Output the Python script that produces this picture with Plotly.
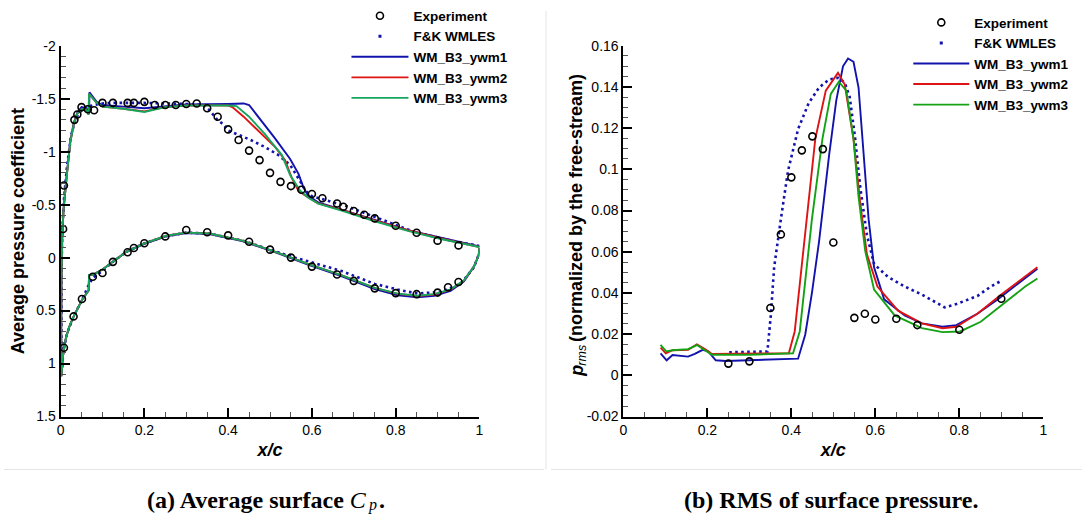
import plotly.graph_objects as go

# ---------------- Left panel: average Cp ----------------
exp_cp_up_x = [0.006, 0.008, 0.033, 0.04, 0.05, 0.065, 0.08, 0.1, 0.125, 0.16, 0.175, 0.2, 0.225, 0.25,
               0.275, 0.3, 0.325, 0.35, 0.375, 0.4, 0.425, 0.45, 0.475, 0.5, 0.525, 0.55, 0.575, 0.6,
               0.625, 0.66, 0.675, 0.7, 0.725, 0.75, 0.8, 0.85, 0.9, 0.95]
exp_cp_up = [-0.27, -0.68, -1.30, -1.35, -1.42, -1.40, -1.39, -1.46, -1.46, -1.46, -1.46, -1.47, -1.44, -1.44,
             -1.44, -1.45, -1.455, -1.41, -1.33, -1.21, -1.11, -1.01, -0.92, -0.80, -0.715, -0.675, -0.64, -0.60,
             -0.56, -0.51, -0.48, -0.44, -0.405, -0.37, -0.30, -0.235, -0.16, -0.115]
exp_cp_lo_x = [0.008, 0.031, 0.051, 0.077, 0.1, 0.125, 0.16, 0.175, 0.2, 0.25, 0.3, 0.35, 0.4, 0.45, 0.5,
               0.55, 0.6, 0.66, 0.7, 0.75, 0.8, 0.85, 0.9, 0.925, 0.95]
exp_cp_lo = [0.85, 0.555, 0.39, 0.18, 0.145, 0.04, -0.05, -0.09, -0.135, -0.2, -0.26, -0.24, -0.21, -0.15, -0.075,
             0.0, 0.085, 0.16, 0.22, 0.29, 0.335, 0.345, 0.33, 0.28, 0.23]

fk_cp_x = [1.0, 0.928, 0.846, 0.765, 0.683, 0.60, 0.585, 0.572, 0.56, 0.548, 0.519, 0.487, 0.454, 0.434, 0.41,
           0.40, 0.388, 0.374, 0.356, 0.34, 0.30, 0.2, 0.12, 0.1, 0.08, 0.06, 0.045, 0.035, 0.025, 0.015, 0.008,
           0.004, 0.002, 0.002, 0.004, 0.006, 0.015, 0.031, 0.051, 0.068, 0.077, 0.1, 0.126, 0.157, 0.2, 0.25,
           0.3, 0.355, 0.434, 0.513, 0.55, 0.592, 0.671, 0.75, 0.813, 0.852, 0.908, 0.955, 0.987, 1.0]
fk_cp = [-0.11, -0.165, -0.24, -0.36, -0.485, -0.58, -0.63, -0.72, -0.80, -0.875, -0.97, -1.045, -1.11, -1.145, -1.18,
         -1.20, -1.26, -1.30, -1.39, -1.44, -1.45, -1.46, -1.46, -1.455, -1.44, -1.42, -1.37, -1.30, -1.15, -0.85, -0.55,
         -0.25, 0.2, 0.8, 1.05, 0.9, 0.72, 0.557, 0.40, 0.25, 0.19, 0.125, 0.036, -0.055, -0.135, -0.2,
         -0.236, -0.227, -0.161, -0.06, -0.01, 0.036, 0.127, 0.248, 0.309, 0.339, 0.324, 0.248, 0.09, -0.05]

ywm1_cp_x = [1.0, 0.908, 0.829, 0.75, 0.671, 0.615, 0.59, 0.58, 0.568, 0.548, 0.511, 0.473, 0.45, 0.437, 0.40,
             0.30, 0.20, 0.15, 0.10, 0.086, 0.072, 0.069, 0.068, 0.062, 0.05, 0.04, 0.031, 0.023, 0.015, 0.01,
             0.007, 0.004, 0.002, 0.0015, 0.002, 0.005, 0.01, 0.02, 0.031, 0.051, 0.06, 0.067, 0.068, 0.078,
             0.10, 0.126, 0.157, 0.2, 0.252, 0.3, 0.355, 0.434, 0.513, 0.592, 0.67, 0.75, 0.805, 0.852, 0.892,
             0.931, 0.963, 0.987, 0.998, 1.0]
ywm1_cp = [-0.105, -0.185, -0.26, -0.355, -0.455, -0.52, -0.59, -0.66, -0.79, -0.93, -1.13, -1.33, -1.44, -1.455, -1.45,
           -1.445, -1.41, -1.425, -1.44, -1.47, -1.54, -1.56, -1.36, -1.41, -1.42, -1.37, -1.26, -1.09, -0.79, -0.6,
           -0.45, -0.2, 0.2, 0.7, 1.12, 0.95, 0.8, 0.66, 0.557, 0.40, 0.35, 0.31, 0.165, 0.16,
           0.112, 0.036, -0.055, -0.13, -0.2, -0.232, -0.222, -0.155, -0.05, 0.068, 0.175, 0.297, 0.355, 0.375, 0.36,
           0.315, 0.225, 0.085, -0.02, -0.09]

ywm2_cp_x = [1.0, 0.908, 0.829, 0.75, 0.671, 0.615, 0.59, 0.568, 0.552, 0.536, 0.513, 0.473, 0.437, 0.41, 0.40,
             0.355, 0.30, 0.25, 0.20, 0.15, 0.10, 0.086, 0.072, 0.068, 0.067, 0.06, 0.05, 0.04, 0.031, 0.023,
             0.015, 0.01, 0.007, 0.004, 0.002, 0.0015, 0.002, 0.005, 0.01, 0.02, 0.031, 0.051, 0.06, 0.067, 0.068,
             0.078, 0.10, 0.126, 0.157, 0.2, 0.252, 0.3, 0.355, 0.434, 0.513, 0.592, 0.67, 0.75, 0.805, 0.852,
             0.892, 0.931, 0.963, 0.987, 0.998, 1.0]
ywm2_cp = [-0.10, -0.18, -0.258, -0.35, -0.45, -0.512, -0.57, -0.63, -0.75, -0.92, -1.04, -1.19, -1.33, -1.42, -1.435,
           -1.437, -1.435, -1.42, -1.38, -1.405, -1.425, -1.46, -1.53, -1.545, -1.35, -1.40, -1.40, -1.36, -1.25, -1.085,
           -0.78, -0.6, -0.45, -0.2, 0.2, 0.7, 1.12, 0.95, 0.8, 0.66, 0.557, 0.40, 0.35, 0.31, 0.165,
           0.16, 0.112, 0.036, -0.055, -0.135, -0.206, -0.236, -0.227, -0.161, -0.055, 0.061, 0.166, 0.285, 0.342, 0.362,
           0.348, 0.302, 0.216, 0.082, -0.02, -0.09]

ywm3_cp_x = [1.0, 0.95, 0.908, 0.829, 0.75, 0.671, 0.615, 0.59, 0.572, 0.548, 0.528, 0.503, 0.489, 0.45, 0.42,
             0.40, 0.355, 0.30, 0.25, 0.20, 0.15, 0.10, 0.086, 0.072, 0.068, 0.067, 0.06, 0.05, 0.04, 0.031,
             0.023, 0.015, 0.01, 0.007, 0.004, 0.002, 0.0015, 0.002, 0.005, 0.01, 0.02, 0.031, 0.051, 0.06, 0.067,
             0.068, 0.078, 0.10, 0.126, 0.157, 0.2, 0.252, 0.3, 0.355, 0.434, 0.513, 0.592, 0.67, 0.75, 0.805,
             0.852, 0.892, 0.931, 0.963, 0.987, 0.998, 1.0]
ywm3_cp = [-0.10, -0.14, -0.176, -0.252, -0.343, -0.443, -0.509, -0.57, -0.63, -0.78, -0.97, -1.09, -1.16, -1.33, -1.43,
           -1.435, -1.437, -1.435, -1.42, -1.375, -1.405, -1.425, -1.46, -1.53, -1.545, -1.35, -1.40, -1.40, -1.36, -1.25,
           -1.085, -0.78, -0.6, -0.45, -0.2, 0.2, 0.7, 1.12, 0.95, 0.8, 0.66, 0.557, 0.40, 0.35, 0.31,
           0.165, 0.16, 0.112, 0.036, -0.055, -0.135, -0.206, -0.236, -0.227, -0.161, -0.055, 0.061, 0.166, 0.285, 0.34,
           0.36, 0.345, 0.30, 0.215, 0.082, -0.02, -0.09]

# ---------------- Right panel: p_rms ----------------
exp_rms_x = [0.25, 0.3, 0.35, 0.375, 0.4, 0.425, 0.45, 0.475, 0.5, 0.55, 0.575, 0.6, 0.65, 0.7, 0.8, 0.9]
exp_rms = [0.0057, 0.0068, 0.0327, 0.0684, 0.0961, 0.1092, 0.116, 0.1098, 0.0645, 0.0279, 0.0299, 0.0271,
           0.0275, 0.0244, 0.0221, 0.0372]

fk_rms_x = [0.252, 0.343, 0.351, 0.359, 0.375, 0.392, 0.416, 0.441, 0.466, 0.49, 0.511, 0.527, 0.539, 0.552,
            0.564, 0.58, 0.597, 0.63, 0.67, 0.711, 0.765, 0.793, 0.843, 0.875, 0.90]
fk_rms = [0.0112, 0.0116, 0.029, 0.0525, 0.0758, 0.0992, 0.1195, 0.132, 0.1397, 0.1436, 0.1444, 0.1421, 0.1351,
          0.1148, 0.0914, 0.0681, 0.054, 0.0478, 0.0431, 0.0392, 0.033, 0.0346, 0.0385, 0.0431, 0.0459]

ywm1_rms_x = [0.0885, 0.103, 0.117, 0.154, 0.17, 0.189, 0.202, 0.22, 0.244, 0.302, 0.416, 0.433, 0.449, 0.466,
              0.49, 0.507, 0.523, 0.535, 0.548, 0.56, 0.572, 0.584, 0.597, 0.621, 0.67, 0.711, 0.76, 0.793,
              0.843, 0.892, 0.941, 0.986]
ywm1_rms = [0.0107, 0.0073, 0.0099, 0.0091, 0.0104, 0.0124, 0.0116, 0.0073, 0.007, 0.0073, 0.0081, 0.0197, 0.04,
            0.065, 0.107, 0.1335, 0.150, 0.1538, 0.1522, 0.1397, 0.107, 0.0758, 0.0525, 0.0369, 0.0291, 0.0252,
            0.0236, 0.0244, 0.0299, 0.0369, 0.0447, 0.0517]

ywm2_rms_x = [0.0885, 0.101, 0.117, 0.154, 0.175, 0.195, 0.211, 0.302, 0.394, 0.408, 0.42, 0.437, 0.457, 0.482,
              0.511, 0.527, 0.548, 0.564, 0.58, 0.605, 0.654, 0.711, 0.76, 0.793, 0.843, 0.90, 0.957, 0.986]
ywm2_rms = [0.0135, 0.0107, 0.0122, 0.0124, 0.015, 0.0127, 0.0104, 0.0104, 0.0107, 0.0213, 0.0447, 0.0758, 0.1148,
            0.1382, 0.1468, 0.1413, 0.1148, 0.0836, 0.0587, 0.0431, 0.0314, 0.0252, 0.0229, 0.0236, 0.0299, 0.0392,
            0.0478, 0.0525]

ywm3_rms_x = [0.0885, 0.102, 0.117, 0.154, 0.175, 0.195, 0.211, 0.302, 0.404, 0.42, 0.433, 0.449, 0.474, 0.494,
              0.513, 0.531, 0.548, 0.56, 0.576, 0.597, 0.646, 0.711, 0.76, 0.802, 0.851, 0.90, 0.957, 0.986]
ywm3_rms = [0.0148, 0.0116, 0.0122, 0.0127, 0.0147, 0.0119, 0.01, 0.01, 0.0107, 0.0213, 0.0447, 0.0758, 0.1148,
            0.1366, 0.1425, 0.1382, 0.1148, 0.0867, 0.0603, 0.0416, 0.0291, 0.0229, 0.021, 0.0213, 0.026, 0.0338,
            0.0431, 0.047]

# tick labels
x_ticks = [0, 0.2, 0.4, 0.6, 0.8, 1]
x_ticktext = ["0", "0.2", "0.4", "0.6", "0.8", "1"]
cp_ticks = [-2, -1.5, -1, -0.5, 0, 0.5, 1, 1.5]
cp_ticktext = ["-2", "-1.5", "-1", "-0.5", "0", "0.5", "1", "1.5"]
rms_ticks = [-0.02, 0, 0.02, 0.04, 0.06, 0.08, 0.1, 0.12, 0.14, 0.16]
rms_ticktext = ["-0.02", "0", "0.02", "0.04", "0.06", "0.08", "0.1", "0.12", "0.14", "0.16"]

BLUE = "rgb(18,18,172)"
RED = "rgb(222,20,20)"
GREEN_L = "rgb(20,166,92)"
GREEN_R = "rgb(20,162,20)"
FONT = "Liberation Sans, Arial, sans-serif"
SERIF = "Liberation Serif, Times New Roman, serif"

W, H = 1086, 518
def px(x):
    return x / W
def py(y):
    return 1 - y / H

fig = go.Figure()

def add_panel(xa, ya, leg, green, fkx, fky, w1x, w1y, w2x, w2y, w3x, w3y, ex_list):
    fig.add_trace(go.Scatter(x=fkx, y=fky, mode="lines", xaxis=xa, yaxis=ya, showlegend=False,
                             line=dict(color=BLUE, width=2.6, dash="2.6px,3.4px"), hoverinfo="skip"))
    fig.add_trace(go.Scatter(x=[None], y=[None], mode="markers", xaxis=xa, yaxis=ya, legend=leg,
                             name="F&K WMLES", legendrank=2,
                             marker=dict(symbol="square", size=3, color=BLUE)))
    fig.add_trace(go.Scatter(x=w1x, y=w1y, mode="lines", xaxis=xa, yaxis=ya, legend=leg, name="WM_B3_ywm1",
                             legendrank=3, line=dict(color=BLUE, width=1.9)))
    fig.add_trace(go.Scatter(x=w2x, y=w2y, mode="lines", xaxis=xa, yaxis=ya, legend=leg, name="WM_B3_ywm2",
                             legendrank=4, line=dict(color=RED, width=1.9)))
    fig.add_trace(go.Scatter(x=w3x, y=w3y, mode="lines", xaxis=xa, yaxis=ya, legend=leg, name="WM_B3_ywm3",
                             legendrank=5, line=dict(color=green, width=1.9)))
    first = True
    for ex, ey in ex_list:
        fig.add_trace(go.Scatter(x=ex, y=ey, mode="markers", xaxis=xa, yaxis=ya, legend=leg,
                                 name="Experiment", legendrank=1, showlegend=first,
                                 marker=dict(symbol="circle-open", size=7, color="black",
                                             line=dict(width=1.6, color="black"))))
        first = False

add_panel("x", "y", "legend", GREEN_L, fk_cp_x, fk_cp, ywm1_cp_x, ywm1_cp, ywm2_cp_x, ywm2_cp,
          ywm3_cp_x, ywm3_cp, [(exp_cp_up_x, exp_cp_up), (exp_cp_lo_x, exp_cp_lo)])
add_panel("x2", "y2", "legend2", GREEN_R, fk_rms_x, fk_rms, ywm1_rms_x, ywm1_rms, ywm2_rms_x, ywm2_rms,
          ywm3_rms_x, ywm3_rms, [(exp_rms_x, exp_rms)])

axis_common = dict(showgrid=False, zeroline=False, showline=True, linewidth=2, linecolor="black",
                   ticks="inside", ticklen=9, tickwidth=2, tickcolor="black", mirror=False,
                   tickfont=dict(family=FONT, size=14, color="black"))
title_font = dict(family=FONT, size=18, color="black")

xdom1 = [px(57), px(479)]
xdom2 = [px(624), px(1047)]
ydom = [py(421), py(36)]

def minor(d):
    return dict(tickmode="linear", tick0=0, dtick=d, ticks="inside", ticklen=5, tickwidth=1, tickcolor="#555")

fig.update_layout(
    width=W, height=H, margin=dict(l=0, r=0, t=0, b=0),
    paper_bgcolor="white", plot_bgcolor="white",
    xaxis=dict(domain=xdom1, range=[0, 1], anchor="y", tickmode="array", tickvals=x_ticks,
               ticktext=x_ticktext, minor=minor(0.05),
               title=dict(text="<b><i>x/c</i></b>", font=title_font, standoff=6), **axis_common),
    yaxis=dict(domain=ydom, range=[1.5, -2], anchor="x", tickmode="array", tickvals=cp_ticks,
               ticktext=cp_ticktext, minor=minor(0.1),
               title=dict(text="<b>Average pressure coefficient</b>", font=title_font, standoff=2),
               **axis_common),
    xaxis2=dict(domain=xdom2, range=[0, 1], anchor="y2", tickmode="array", tickvals=x_ticks,
                ticktext=x_ticktext, minor=minor(0.05),
                title=dict(text="<b><i>x/c</i></b>", font=title_font, standoff=6), **axis_common),
    yaxis2=dict(domain=ydom, range=[-0.02, 0.16], anchor="x2", tickmode="array", tickvals=rms_ticks,
                ticktext=rms_ticktext, minor=minor(0.005), **axis_common),
    legend=dict(x=px(345), y=py(-11), xanchor="left", yanchor="top", bgcolor="rgba(0,0,0,0)",
                itemwidth=57, tracegroupgap=0,
                font=dict(family=FONT, size=13.5, color="black", weight="bold")),
    legend2=dict(x=px(911), y=py(-4), xanchor="left", yanchor="top", bgcolor="rgba(0,0,0,0)",
                 itemwidth=56, tracegroupgap=0,
                 font=dict(family=FONT, size=13.5, color="black", weight="bold")),
    showlegend=True,
)

annotations = [
    # right-panel y title, built from pieces (p, subscript rms, rest)
    dict(text="<b><i>p</i></b>", x=px(577), y=py(381), xanchor="center", yanchor="bottom",
         textangle=-90, font=dict(family=FONT, size=18, color="black")),
    dict(text="<i>rms</i>", x=px(582), y=py(369), xanchor="center", yanchor="bottom",
         textangle=-90, font=dict(family=FONT, size=12.5, color="black")),
    dict(text="<b>(normalized by the free-stream)</b>", x=px(577), y=py(345), xanchor="center", yanchor="bottom",
         textangle=-90, font=dict(family=FONT, size=18, color="black")),
    # captions
    dict(text="<b>(a) Average surface </b><i>C</i>", x=px(367), y=py(508), xanchor="right", yanchor="middle",
         font=dict(family=SERIF, size=24, color="black")),
    dict(text="<i>p</i>", x=px(366), y=py(513), xanchor="left", yanchor="middle",
         font=dict(family=SERIF, size=16, color="black")),
    dict(text="<b>.</b>", x=px(377), y=py(508), xanchor="left", yanchor="middle",
         font=dict(family=SERIF, size=24, color="black")),
    dict(text="<b>(b) RMS of surface pressure.</b>", x=px(833), y=py(508), xanchor="center", yanchor="middle",
         font=dict(family=SERIF, size=24, color="black")),
]
for a in annotations:
    a.update(xref="paper", yref="paper", showarrow=False, borderpad=0)
fig.update_layout(annotations=annotations)

# faint panel separators
sep = dict(type="line", xref="paper", yref="paper", line=dict(color="#e4e4e4", width=1), layer="below")
fig.update_layout(shapes=[
    dict(sep, x0=px(546), x1=px(546), y0=py(0), y1=py(476)),
    dict(sep, x0=0, x1=px(544), y0=py(476), y1=py(476)),
    dict(sep, x0=px(551), x1=1, y0=py(476), y1=py(476)),
])

fig.write_html("out.html")
